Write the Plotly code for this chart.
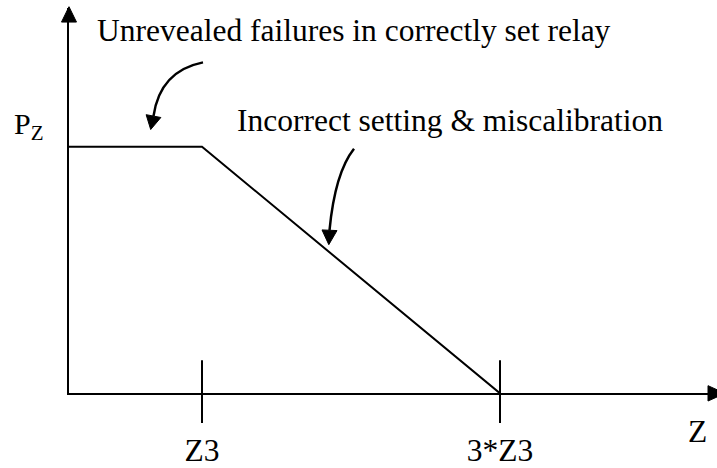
import plotly.graph_objects as go

# Schematic: probability of relay operation P_Z versus impedance Z
z_points = [0.0, 1.0, 3.0]        # in units of Z3: origin, Z3, 3*Z3
p_points = [1.0, 1.0, 0.0]        # P_Z level, constant then falling to zero
tick_vals = [1.0, 3.0]
tick_text = ["Z3", "3*Z3"]
label_regions = "Unrevealed failures in correctly set relay"
label_slope = "Incorrect setting &amp; miscalibration"

W, H = 717, 468
FONT = "Liberation Serif, Times New Roman, Times, DejaVu Serif, serif"
FS = 31.5
INK = "black"

# x axis: Z3 at x=1, 3*Z3 at x=3; the y axis sits a little right of z=0
x_min, x_max = 0.1074, 4.4564
y_min, y_max = 0.0, 1.5642
x_dom = [69 / W, 1.0]
y_dom = [(H - 410) / H, (H - 8) / H]


def fx(px):
    """pixel column -> paper fraction"""
    return px / W


def fy(py):
    """pixel row (from top) -> paper fraction"""
    return 1 - py / H


fig = go.Figure()
fig.add_trace(go.Scatter(
    x=z_points, y=p_points, mode="lines",
    line=dict(color=INK, width=2), hoverinfo="skip", showlegend=False,
))

axis_common = dict(showgrid=False, zeroline=False, linecolor=INK, linewidth=2)
fig.update_layout(
    width=W, height=H,
    margin=dict(l=0, r=0, t=0, b=0),
    paper_bgcolor="white", plot_bgcolor="white",
    font=dict(family=FONT, size=FS, color=INK),
    xaxis=dict(range=[x_min, x_max], domain=x_dom, anchor="y",
               showline=True, ticks="outside", ticklen=28, tickwidth=2,
               tickcolor=INK, tickvals=tick_vals, ticktext=tick_text,
               tickfont=dict(family=FONT, size=FS, color=INK), **axis_common),
    yaxis=dict(range=[y_min, y_max], domain=y_dom, anchor="x",
               showline=True, ticks="", showticklabels=False, **axis_common),
)

# tick marks continue above the axis line
for tv in tick_vals:
    fig.add_shape(type="line", xref="x", yref="y", ysizemode="pixel", yanchor=0,
                  x0=tv, x1=tv, y0=0, y1=33, line=dict(color=INK, width=2))


def head(tip, base, half):
    """filled triangular arrowhead from base centre to tip (pixel units)"""
    dx, dy = tip[0] - base[0], tip[1] - base[1]
    n = (dx * dx + dy * dy) ** 0.5
    ox, oy = -dy / n * half, dx / n * half
    pts = [tip, (base[0] + ox, base[1] + oy), (base[0] - ox, base[1] - oy)]
    path = "M " + " L ".join(f"{fx(p[0]):.5f} {fy(p[1]):.5f}" for p in pts) + " Z"
    fig.add_shape(type="path", xref="paper", yref="paper", path=path,
                  fillcolor=INK, line=dict(color=INK, width=1))


# axis arrowheads
head((69, 7), (69, 23), 7.5)
head((725, 410), (708, 410), 8)

# curved callout arrows: start, control, end (pixels), then head tip
curves = [
    ((203, 65), (160, 74), (153.5, 121), (150.7, 135)),
    ((354, 155), (335, 180), (329.5, 240), (328.8, 255)),
]
for p0, c, p2, tip in curves:
    fig.add_shape(type="path", xref="paper", yref="paper",
                  path=(f"M {fx(p0[0]):.5f} {fy(p0[1]):.5f} "
                        f"Q {fx(c[0]):.5f} {fy(c[1]):.5f} "
                        f"{fx(p2[0]):.5f} {fy(p2[1]):.5f}"),
                  line=dict(color=INK, width=2.5))
    head(tip, p2, 7.5)

# text labels
fig.add_annotation(x=fx(95), y=fy(31.3), xref="paper", yref="paper",
                   xanchor="left", yanchor="middle", showarrow=False,
                   text=label_regions)
fig.add_annotation(x=fx(235), y=fy(125.7), xref="paper", yref="paper",
                   xanchor="left", yanchor="middle", showarrow=False,
                   text=label_slope)
fig.add_annotation(x=fx(697), y=fy(450), xref="paper", yref="paper",
                   xanchor="center", yanchor="middle", showarrow=False,
                   text="Z")
fig.add_annotation(x=fx(46), y=fy(131), xref="paper", yref="paper",
                   xanchor="right", yanchor="middle", showarrow=False,
                   text="P<sub>Z</sub>", font=dict(size=30))

fig.write_html("out.html")
